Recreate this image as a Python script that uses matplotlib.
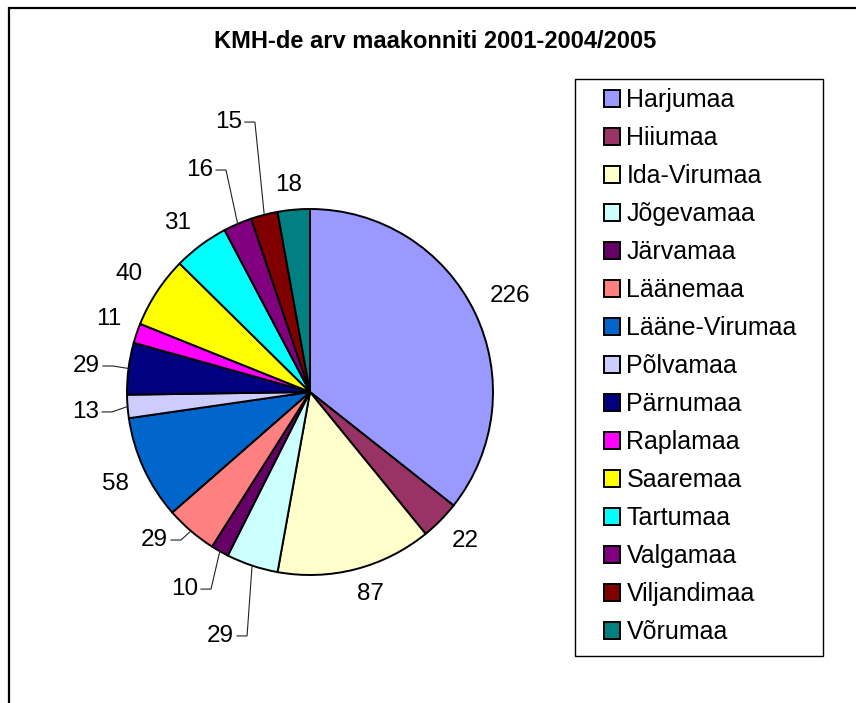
import matplotlib
matplotlib.use('Agg')
import matplotlib.pyplot as plt
import numpy as np
from matplotlib.patches import Rectangle

plt.rcParams['font.family'] = ['Liberation Sans', 'DejaVu Sans']

# data
counties = ['Harjumaa', 'Hiiumaa', 'Ida-Virumaa', 'Jõgevamaa', 'Järvamaa',
            'Läänemaa', 'Lääne-Virumaa', 'Põlvamaa', 'Pärnumaa', 'Raplamaa',
            'Saaremaa', 'Tartumaa', 'Valgamaa', 'Viljandimaa', 'Võrumaa']
counts = [226, 22, 87, 29, 10, 29, 58, 13, 29, 11, 40, 31, 16, 15, 18]
colors = ['#9999FF', '#993366', '#FFFFCC', '#CCFFFF', '#660066',
          '#FF8080', '#0066CC', '#CCCCFF', '#000080', '#FF00FF',
          '#FFFF00', '#00FFFF', '#800080', '#800000', '#008080']

# labels moved off the pie with a leader line: slice index -> text anchor (right end)
moved = {3: (-0.415, -1.333), 4: (-0.612, -1.077), 5: (-0.776, -0.809),
         7: (-1.153, -0.109), 8: (-1.148, 0.142),
         12: (-0.530, 1.213), 13: (-0.372, 1.475)}

W, H = 856, 703
R = 183.0          # pie radius in px
cx, cy = 310, 392  # pie centre in px (from top)
fs = 17.5          # pie labels
lfs = 18           # legend

fig = plt.figure(figsize=(W / 100, H / 100), dpi=100)

# outer chart frame (only left/top visible)
fig.patches.append(Rectangle((9 / W, -0.1), 1.2, 1.1 - 8 / H, transform=fig.transFigure,
                             fill=False, ec='black', lw=1.6, clip_on=False))
# legend frame
fig.patches.append(Rectangle((575 / W, 1 - 656 / H), 248 / W, 577 / H,
                             transform=fig.transFigure, fill=False, ec='black', lw=1.0))

fig.text(435 / W, 1 - 42 / H, 'KMH-de arv maakonniti 2001-2004/2005',
         ha='center', va='center', fontsize=17, fontweight='bold')

side = 3 * R
ax = fig.add_axes([(cx - side / 2) / W, (H - cy - side / 2) / H, side / W, side / H])
wedges, _ = ax.pie(counts, colors=colors, startangle=90, counterclock=False, radius=1,
                   wedgeprops=dict(edgecolor='black', linewidth=1.4))
ax.set_xlim(-1.5, 1.5)
ax.set_ylim(-1.5, 1.5)
ax.axis('off')

renderer = fig.canvas.get_renderer()
px = 1.0 / R  # one pixel in data units
r0 = 1.09
for i, (w, v) in enumerate(zip(wedges, counts)):
    mid = np.deg2rad((w.theta1 + w.theta2) / 2)
    c, s = np.cos(mid), np.sin(mid)
    if i in moved:
        tx, ty = moved[i]
        ax.text(tx, ty, str(v), ha='right', va='center', fontsize=fs)
        x0 = tx + 3 * px
        x1 = x0 + 10 * px
        ax.plot([x0, x1, c], [ty, ty, s], color='#222222', lw=0.8,
                solid_joinstyle='miter')
    else:
        t = ax.text(r0 * c, r0 * s, str(v), ha='center', va='center', fontsize=fs)
        bb = t.get_window_extent(renderer)
        hw = bb.width / 2 * px
        hh = bb.height / 2 * px * 0.8
        t.set_position((r0 * c + hw * np.clip(3 * c, -1, 1),
                        r0 * s + hh * np.clip(3 * s, -1, 1)))

leg = ax.legend(wedges, counties, loc='upper left',
                bbox_to_anchor=(604 / W, 1 - 88 / H), bbox_transform=fig.transFigure,
                borderaxespad=0, borderpad=0, fontsize=lfs, frameon=False,
                handlelength=0.65, handleheight=0.65,
                handletextpad=0.25, labelspacing=0.56)

fig.savefig('out.png', dpi=100)
